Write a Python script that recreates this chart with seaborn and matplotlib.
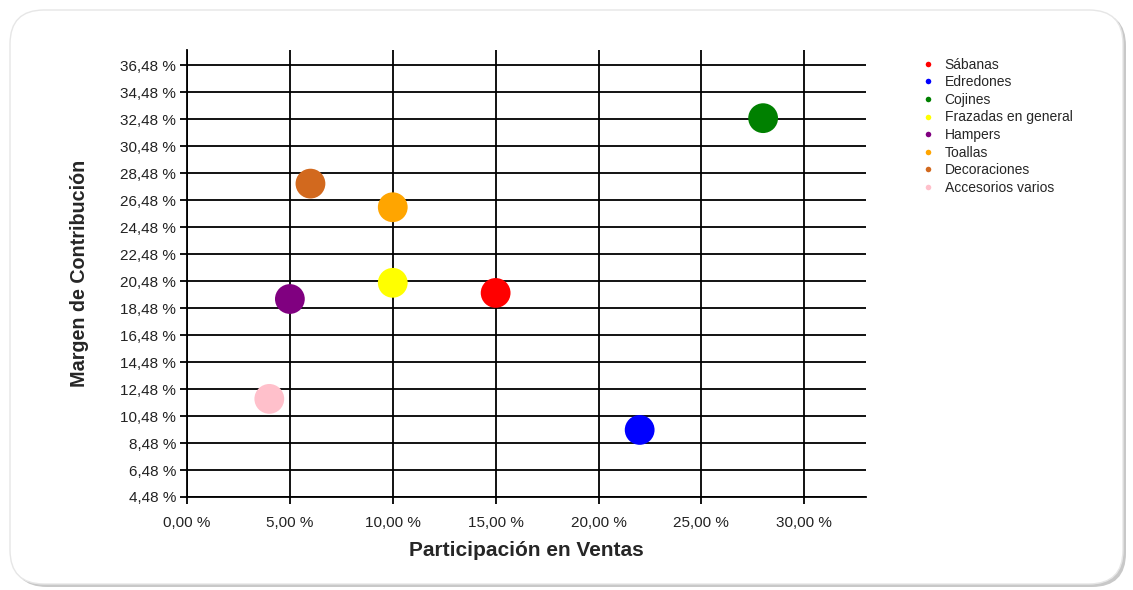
import matplotlib
matplotlib.use("Agg")
import matplotlib.pyplot as plt
import seaborn as sns
import pandas as pd
from matplotlib.patches import FancyBboxPatch
from matplotlib.lines import Line2D

categories = ["Sábanas", "Edredones", "Cojines", "Frazadas en general",
              "Hampers", "Toallas", "Decoraciones", "Accesorios varios"]
participacion = [15.0, 22.0, 28.0, 10.0, 5.0, 10.0, 6.0, 4.0]
margen = [19.6, 9.45, 32.55, 20.35, 19.15, 25.95, 27.7, 11.75]
colors = ["#FF0000", "#0000FF", "#008000", "#FFFF00",
          "#800080", "#FFA500", "#D2691E", "#FFC0CB"]
x_ticks = [0, 5, 10, 15, 20, 25, 30]
y_ticks = [4.48 + 2 * i for i in range(17)]

df = pd.DataFrame({"cat": categories, "x": participacion, "y": margen})

sns.set_style("white")
plt.rcParams["font.family"] = ["Liberation Sans", "DejaVu Sans"]

fig = plt.figure(figsize=(11.33, 5.9), dpi=100)
fig.patch.set_facecolor("white")

# frame with shadow
W, H = 1133, 590
shadow = FancyBboxPatch((13 / W, 3 / H), 1113 / W, 575 / H,
                        boxstyle="round,pad=0,rounding_size=0.03",
                        transform=fig.transFigure, facecolor="#c8c8c8",
                        edgecolor="none", zorder=-3,
                        mutation_aspect=W / H)
fig.patches.append(shadow)
frame = FancyBboxPatch((10 / W, 6 / H), 1113 / W, 574 / H,
                       boxstyle="round,pad=0,rounding_size=0.03",
                       transform=fig.transFigure, facecolor="white",
                       edgecolor="#e6e6e6", linewidth=1.0, zorder=-2,
                       mutation_aspect=W / H)
fig.patches.append(frame)

ax = fig.add_axes([187 / W, 1 - 497 / H, (866 - 187) / W, (497 - 50) / H])
ax.set_facecolor("none")

sns.scatterplot(data=df, x="x", y="y", hue="cat", palette=colors,
                hue_order=categories, s=460, edgecolor="none",
                legend=False, ax=ax, zorder=3)

ax.set_xlim(0, 33)
ax.set_ylim(4.48, 37.6)
ax.set_xticks(x_ticks)
ax.set_xticklabels([f"{v:.2f} %".replace(".", ",") for v in x_ticks], fontsize=11)
ax.set_yticks(y_ticks)
ax.set_yticklabels([f"{v:.2f} %".replace(".", ",") for v in y_ticks], fontsize=11)
ax.grid(True, color="black", linewidth=1.3)
ax.set_axisbelow(True)
for s in ["top", "right"]:
    ax.spines[s].set_visible(False)
for s in ["left", "bottom"]:
    ax.spines[s].set_color("black")
    ax.spines[s].set_linewidth(1.3)
ax.tick_params(axis="both", direction="out", length=5, width=1.3,
               color="black", left=True, bottom=True, labelcolor="#222222")
ax.tick_params(axis="x", pad=8.5)
ax.tick_params(axis="y", pad=3)

ax.set_xlabel("Participación en Ventas", fontsize=15, fontweight="bold", labelpad=8)
ax.set_ylabel("Margen de Contribución", fontsize=14.2, fontweight="bold", labelpad=22)

handles = [Line2D([0], [0], marker="o", linestyle="none", markersize=4,
                  markerfacecolor=c, markeredgecolor="none") for c in colors]
fig.legend(handles, categories, loc="upper left",
           bbox_to_anchor=(914 / W, 1 - 52 / H), frameon=False,
           fontsize=10, handletextpad=0.6, labelspacing=0.26,
           handlelength=1.2, borderaxespad=0)

fig.savefig("out.png", dpi=100)
